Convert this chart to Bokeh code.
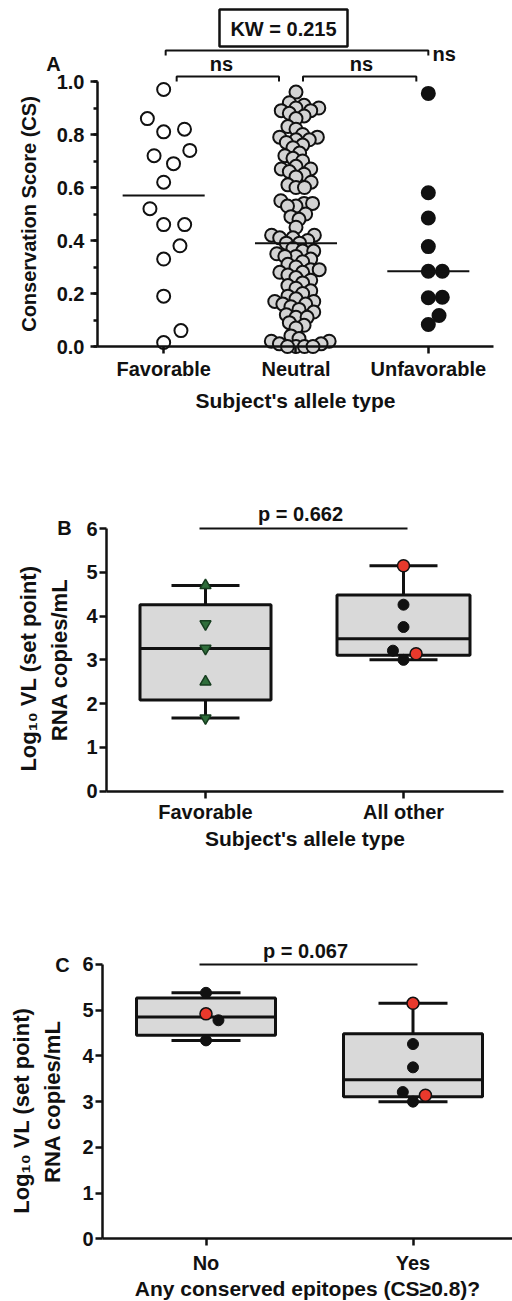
import math
import numpy as np
from bokeh.plotting import figure
from bokeh.models import Range1d, Label, FixedTicker, SingleIntervalTicker, PrintfTickFormatter
from bokeh.layouts import column
from bokeh.embed import file_html
from bokeh.resources import INLINE

FONT = "Liberation Sans"
INK = "#111111"

# ---------------- data ----------------
# Panel A: conservation score by allele type
groups_a = ["Favorable", "Neutral", "Unfavorable"]
cs_favorable = [0.97, 0.86, 0.82, 0.81, 0.74, 0.72, 0.69, 0.62, 0.52, 0.46, 0.46,
                0.38, 0.33, 0.19, 0.06, 0.015]
cs_neutral = [0.96,
              0.92, 0.91, 0.90, 0.90, 0.89, 0.89, 0.88, 0.87, 0.86,
              0.83, 0.82,
              0.80, 0.79, 0.79, 0.78, 0.78, 0.77, 0.76, 0.75,
              0.73, 0.72, 0.71, 0.70,
              0.68, 0.67, 0.67, 0.66, 0.65, 0.64,
              0.62, 0.61, 0.60, 0.60,
              0.55, 0.54, 0.54, 0.53, 0.53, 0.50, 0.49, 0.48,
              0.45,
              0.42, 0.42, 0.41, 0.41, 0.40, 0.39, 0.39,
              0.37, 0.36, 0.36, 0.35, 0.34, 0.34, 0.33, 0.32, 0.31, 0.30,
              0.29, 0.29, 0.28, 0.28, 0.27, 0.26, 0.25,
              0.24, 0.23, 0.22, 0.21, 0.20, 0.19,
              0.18, 0.17, 0.17, 0.16, 0.16, 0.15, 0.14, 0.13, 0.12, 0.11, 0.11,
              0.09, 0.08, 0.07,
              0.04, 0.03, 0.02, 0.02, 0.01, 0.01, 0.00, 0.00, 0.00, 0.00]
cs_unfavorable = [0.955, 0.58, 0.485, 0.377, 0.284, 0.284, 0.186, 0.184, 0.117, 0.083]
kw_text = "KW = 0.215"
ns_text = "ns"

# Panel B: viral load by allele type
groups_b = ["Favorable", "All other"]
vl_favorable = [4.70, 3.82, 3.26, 2.50, 1.67]
vl_favorable_marker = ["triangle", "inverted_triangle", "inverted_triangle",
                       "triangle", "inverted_triangle"]
vl_other = [5.15, 4.26, 3.75, 3.21, 3.14, 3.00]
vl_other_kind = ["red", "black", "black", "black", "red", "black"]
p_text_b = "p = 0.662"

# Panel C: viral load by conserved epitopes
groups_c = ["No", "Yes"]
vl_no = [5.38, 4.92, 4.78, 4.34]
vl_no_kind = ["black", "red", "black", "black"]
vl_yes = [5.15, 4.26, 3.75, 3.21, 3.14, 3.00]
vl_yes_kind = ["red", "black", "black", "black", "red", "black"]
p_text_c = "p = 0.067"

RED = "#e8392c"
GREEN = "#2f6e3b"
BOXFILL = "#d9d9d9"
NEUTRALFILL = "#d3d3d3"
W = 512


def swarm(vals, px_y, px_x, d, descending=False):
    vals = np.asarray(vals, dtype=float)
    order = np.argsort(-vals if descending else vals, kind="stable")
    placed = []
    off = np.zeros(len(vals))
    for i in order:
        y = vals[i] * px_y
        cands = [0.0]
        for (xj, yj) in placed:
            dy = y - yj
            if abs(dy) < d:
                dx = math.sqrt(d * d - dy * dy)
                cands += [xj + dx, xj - dx]
        cands.sort(key=lambda c: (abs(c), -c))
        chosen = cands[-1]
        for c in cands:
            if all((c - xj) ** 2 + (y - yj) ** 2 >= d * d - 1e-6 for xj, yj in placed):
                chosen = c
                break
        placed.append((chosen, y))
        off[i] = chosen
    return off / px_x


class Panel:
    """Figure whose frame fills the whole canvas; axes are fixed at data locations."""

    def __init__(self, top, height, x_half_px, pxx, y0_px, pxy):
        # x = 0.5 sits at page x `x_half_px`; y = 0 sits at page y `y0_px`
        self.top, self.height = top, height
        self.x_half_px, self.pxx = x_half_px, pxx
        self.y0_px, self.pxy = y0_px, pxy
        self.p = figure(width=W, height=height, frame_width=W, frame_height=height,
                        x_range=Range1d(self.x(0), self.x(W)),
                        y_range=Range1d(self.y(top + height), self.y(top)),
                        min_border_left=0, min_border_right=0, min_border_top=0,
                        min_border_bottom=0, output_backend="svg", toolbar_location=None)

    def x(self, px):
        return 0.5 + (px - self.x_half_px) / self.pxx

    def y(self, py):
        return (self.y0_px - py) / self.pxy

    def dx(self, px):
        return px / self.pxx

    def dy(self, px):
        return px / self.pxy


def style(pan, xt, labels, yticker, ytop, xend_px, ystandoff, xs, xa):
    p = pan.p
    p.outline_line_color = None
    p.grid.grid_line_color = None
    p.background_fill_color = "white"
    p.border_fill_color = "white"
    for ax in (p.xaxis[0], p.yaxis[0]):
        ax.axis_line_width = 2.5
        ax.axis_line_color = INK
        ax.major_tick_line_width = 2.5
        ax.major_tick_line_color = INK
        ax.minor_tick_line_width = 2.5
        ax.minor_tick_line_color = INK
        ax.major_tick_in = 0
        ax.major_tick_out = 7
        ax.minor_tick_in = 0
        ax.minor_tick_out = 4
        ax.major_label_text_font = FONT
        ax.major_label_text_font_style = "bold"
        ax.major_label_text_font_size = "20px"
        ax.major_label_text_color = INK
        ax.axis_label_text_font = FONT
        ax.axis_label_text_font_style = "bold"
        ax.axis_label_text_font_size = "21px"
        ax.axis_label_text_color = INK
    p.xaxis.ticker = FixedTicker(ticks=xt)
    p.xaxis.major_label_overrides = {t: l for t, l in zip(xt, labels)}
    p.xaxis.minor_tick_line_color = None
    p.xaxis.bounds = (0.5, pan.x(xend_px))
    p.xaxis.fixed_location = 0
    p.xaxis.major_label_standoff = xs
    p.xaxis.axis_label_standoff = xa
    p.yaxis.ticker = yticker
    p.yaxis.bounds = (0, ytop)
    p.yaxis.fixed_location = 0.5
    p.yaxis.major_label_standoff = ystandoff


def text(p, x, y, t, size="20px", align="center", baseline="middle", angle=0.0):
    p.add_layout(Label(x=x, y=y, text=t, text_font=FONT, text_font_style="bold",
                       text_font_size=size, text_color=INK, text_align=align,
                       text_baseline=baseline, angle=angle))


# ---------------- Panel A ----------------
A = Panel(top=0, height=440, x_half_px=97, pxx=132.33, y0_px=346, pxy=265.0)
pa = A.p
xa = [1, 2, 3]
style(A, xa, groups_a, SingleIntervalTicker(interval=0.2, num_minor_ticks=2), 1.0, 493,
      6, 4, 6)
pa.yaxis.formatter = PrintfTickFormatter(format="%.1f")
pa.xaxis.axis_label = "Subject's allele type"

fills = ["white", NEUTRALFILL, INK]
swarm_d = [21.0, 8.5, 14.0]
for gx, vals, fc, d in zip(xa, [cs_favorable, cs_neutral, cs_unfavorable], fills, swarm_d):
    off = swarm(vals, A.pxy, A.pxx, d)
    pa.scatter(x=gx + off, y=vals, size=13, marker="circle", fill_color=fc,
               line_color=INK, line_width=2)
    m = float(np.median(vals))
    pa.segment(x0=[gx - 0.31], x1=[gx + 0.31], y0=[m], y1=[m], line_color=INK, line_width=2)

# comparison brackets and labels
top = 1.0
y_in_low, y_in_high = top, top + A.dy(5)
pa.line(x=[xa[0] + A.dx(13)] * 2 + [xa[1] - A.dx(17)] * 2,
        y=[y_in_low, y_in_high, y_in_high, y_in_low], line_color=INK, line_width=2)
pa.line(x=[xa[1] + A.dx(7)] * 2 + [xa[2] - A.dx(12)] * 2,
        y=[y_in_low, y_in_high, y_in_high, y_in_low], line_color=INK, line_width=2)
y_out_low, y_out_high = top + A.dy(26), top + A.dy(31)
pa.line(x=[xa[0] + A.dx(2)] * 2 + [xa[2]] * 2,
        y=[y_out_low, y_out_high, y_out_high, y_out_low], line_color=INK, line_width=2)
text(pa, A.x(221), A.y(63), ns_text)
text(pa, A.x(361), A.y(63), ns_text)
text(pa, A.x(432), A.y(53), ns_text, align="left")
pa.quad(left=[A.x(219)], right=[A.x(347)], bottom=[A.y(46)], top=[A.y(9)],
        fill_color="white", line_color=INK, line_width=2.5)
text(pa, A.x(283), A.y(28), kw_text)
text(pa, A.x(53), A.y(63), "A")
text(pa, A.x(28), 0.5, "Conservation Score (CS)", angle=math.pi / 2)


# ---------------- box plot helpers ----------------
def draw_box(pan, x, vals, box_px, cap_px):
    p = pan.p
    q1, med, q3 = np.percentile(vals, [25, 50, 75], method="weibull")
    lo, hi = min(vals), max(vals)
    bw = pan.dx(box_px) / 2
    cw = pan.dx(cap_px) / 2
    p.segment(x0=[x, x], x1=[x, x], y0=[q3, lo], y1=[hi, q1], line_color=INK, line_width=3)
    p.segment(x0=[x - cw, x - cw], x1=[x + cw, x + cw], y0=[hi, lo], y1=[hi, lo],
              line_color=INK, line_width=3)
    p.quad(left=[x - bw], right=[x + bw], bottom=[q1], top=[q3], fill_color=BOXFILL,
           line_color=INK, line_width=3)
    p.segment(x0=[x - bw], x1=[x + bw], y0=[med], y1=[med], line_color=INK, line_width=3)


def draw_kind_points(pan, x, vals, kinds, descending=False):
    off = swarm(vals, pan.pxy, pan.pxx, 14.0, descending)
    for v, k, o in zip(vals, kinds, off):
        if k == "red":
            pan.p.scatter(x=[x + o], y=[v], size=12, marker="circle", fill_color=RED,
                          line_color=INK, line_width=1.5)
        else:
            pan.p.scatter(x=[x + o], y=[v], size=11, marker="circle", fill_color=INK,
                          line_color=INK, line_width=1)


# ---------------- Panel B ----------------
B = Panel(top=440, height=440, x_half_px=106, pxx=198.0, y0_px=790.7, pxy=43.78)
pb = B.p
style(B, [1, 2], groups_b, SingleIntervalTicker(interval=1, num_minor_ticks=0), 6, 503,
      2, 3, 0)
pb.xaxis.axis_label = "Subject's allele type"
draw_box(B, 1, vl_favorable, 131, 68)
draw_box(B, 2, vl_other, 133, 68)
offb = swarm(vl_favorable, B.pxy, B.pxx, 14.0)
for v, mk, o in zip(vl_favorable, vl_favorable_marker, offb):
    pb.scatter(x=[1 + o], y=[v], size=11, marker=mk, fill_color=GREEN,
               line_color="#163d1f", line_width=1.5)
draw_kind_points(B, 2, vl_other, vl_other_kind)
pb.line(x=[B.x(199), B.x(407)], y=[6, 6], line_color=INK, line_width=2)
text(pb, B.x(300), B.y(513), p_text_b)
text(pb, B.x(64), B.y(527), "B")
text(pb, B.x(28), 2.8, "Log\u2081\u2080 VL (set point)", size="22px", angle=math.pi / 2)
text(pb, B.x(59), 3.0, "RNA copies/mL", size="22px", angle=math.pi / 2)

# ---------------- Panel C ----------------
C = Panel(top=880, height=420, x_half_px=102, pxx=207.0, y0_px=1238.3, pxy=45.72)
pc = C.p
style(C, [1, 2], groups_c, SingleIntervalTicker(interval=1, num_minor_ticks=0), 6, 512,
      2, 6, 0)
pc.xaxis.axis_label = "Any conserved epitopes (CS\u22650.8)?"
draw_box(C, 1, vl_no, 139, 69)
draw_box(C, 2, vl_yes, 139, 69)
draw_kind_points(C, 1, vl_no, vl_no_kind, descending=True)
draw_kind_points(C, 2, vl_yes, vl_yes_kind)
pc.line(x=[C.x(199), C.x(417)], y=[6, 6], line_color=INK, line_width=2)
text(pc, C.x(305), C.y(950), p_text_c)
text(pc, C.x(62), C.y(964), "C")
text(pc, C.x(21), 2.8, "Log\u2081\u2080 VL (set point)", size="22px", angle=math.pi / 2)
text(pc, C.x(52), 3.0, "RNA copies/mL", size="22px", angle=math.pi / 2)

layout = column(pa, pb, pc, spacing=0)
open("out.html", "w").write(file_html(layout, INLINE))
